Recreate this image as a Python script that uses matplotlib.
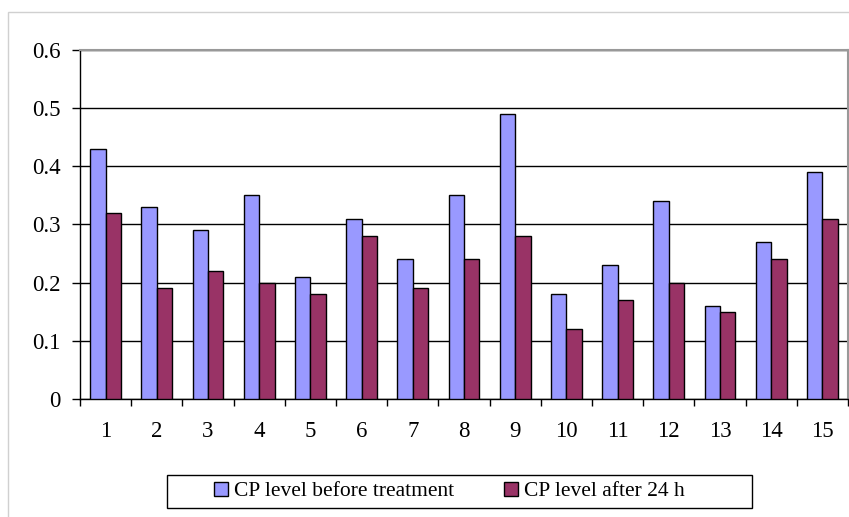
import numpy as np
import matplotlib.pyplot as plt
from matplotlib.patches import Rectangle

# Data
samples = [str(i) for i in range(1, 16)]
before = [0.43, 0.33, 0.29, 0.35, 0.21, 0.31, 0.24, 0.35, 0.49, 0.18, 0.23, 0.34, 0.16, 0.27, 0.39]
after_24h = [0.32, 0.19, 0.22, 0.20, 0.18, 0.28, 0.19, 0.24, 0.28, 0.12, 0.17, 0.20, 0.15, 0.24, 0.31]

plt.rcParams['font.family'] = ['Liberation Serif', 'DejaVu Serif']
FS = 15.5
TICK_FS = 16.5

W, H = 849, 517
fig = plt.figure(figsize=(W / 100, H / 100), dpi=100)
ax = fig.add_axes([80 / W, (H - 399) / H, 768 / W, 349 / H])

# Outer chart frame
fig.patches.append(Rectangle((8 / W, -0.1), 1.0, 1 - 12 / H + 0.1, transform=fig.transFigure,
                             fill=False, edgecolor='#d0d0d0', linewidth=1))

x = np.arange(1, len(samples) + 1)
w = 0.3
ax.bar(x - w / 2, before, w, color='#9999ff', edgecolor='black', linewidth=1,
       label='CP level before treatment', zorder=3)
ax.bar(x + w / 2, after_24h, w, color='#993366', edgecolor='black', linewidth=1,
       label='CP level after 24 h', zorder=3)

ax.set_xlim(0.5, 15.5)
ax.set_ylim(0, 0.6)
ax.set_yticks(np.arange(0, 0.61, 0.1))
ax.set_yticklabels(['0', '0.1', '0.2', '0.3', '0.4', '0.5', '0.6'], fontsize=TICK_FS)
ax.yaxis.grid(True, color='black', linewidth=1, zorder=0)

ax.set_xticks(x)
ax.set_xticklabels(samples, fontsize=TICK_FS)
ax.set_xticks(np.arange(0.5, 15.6, 1), minor=True)
ax.tick_params(axis='x', which='major', length=0, pad=16)
ax.tick_params(axis='x', which='minor', length=5, width=1, direction='out')
ax.tick_params(axis='y', length=6, width=1, pad=8)

for s in ['top', 'right']:
    ax.spines[s].set_color('#999999')
    ax.spines[s].set_linewidth(1.5)
for s in ['left', 'bottom']:
    ax.spines[s].set_color('black')
    ax.spines[s].set_linewidth(1)

# Legend box and entries
fig.patches.append(Rectangle((167 / W, 1 - 508 / H), (752 - 167) / W, 33 / H, transform=fig.transFigure,
                             fill=False, edgecolor='black', linewidth=1))
fig.legend(loc='center left', bbox_to_anchor=(214 / W, 1 - 491.5 / H), ncol=2, fontsize=FS,
           frameon=False, borderpad=0, borderaxespad=0, handlelength=0.65, handleheight=0.65,
           columnspacing=2.3, handletextpad=0.28)

fig.savefig('out.png', dpi=100)
